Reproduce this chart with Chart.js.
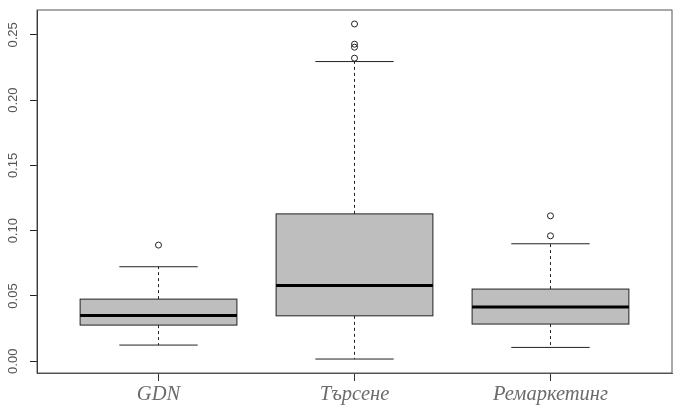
<!DOCTYPE html>
<html>
<head>
<meta charset="utf-8">
<script src="https://cdn.jsdelivr.net/npm/chart.js@4/dist/chart.umd.min.js"></script>
<style>
  html, body { margin: 0; padding: 0; background: #fff; }
  #wrap { width: 690px; height: 420px; }
</style>
</head>
<body>
<div id="wrap"><canvas id="box"></canvas></div>
<script>
const categories = ['GDN', 'Търсене', 'Ремаркетинг'];
const whiskerLow = [0.0124, 0.0017, 0.0106];
const q1 = [0.0277, 0.0348, 0.0285];
const median = [0.0351, 0.058, 0.0415];
const q3 = [0.0476, 0.1129, 0.0553];
const whiskerHigh = [0.0724, 0.2296, 0.090];
const outliers = [
  [0.089],
  [0.2322, 0.2406, 0.2429, 0.2584],
  [0.0961, 0.1114]
];
const yTicks = [0, 0.05, 0.10, 0.15, 0.20, 0.25];

// outlier points, x = category position 1..n
const outlierPoints = [];
outliers.forEach((list, i) => {
  list.forEach(v => outlierPoints.push({x: i + 1, y: v}));
});

// boxes, whiskers and medians drawn from the scales
const boxPlugin = {
  id: 'boxes',
  beforeDatasetsDraw(chart) {
    const ctx = chart.ctx;
    const xs = chart.scales.x;
    const ys = chart.scales.y;
    ctx.save();
    categories.forEach((c, i) => {
      const pos = i + 1;
      const xl = xs.getPixelForValue(pos - 0.4);
      const xr = xs.getPixelForValue(pos + 0.4);
      const cl = xs.getPixelForValue(pos - 0.2);
      const cr = xs.getPixelForValue(pos + 0.2);
      const xc = xs.getPixelForValue(pos);
      const yLo = ys.getPixelForValue(whiskerLow[i]);
      const yQ1 = ys.getPixelForValue(q1[i]);
      const yMed = ys.getPixelForValue(median[i]);
      const yQ3 = ys.getPixelForValue(q3[i]);
      const yHi = ys.getPixelForValue(whiskerHigh[i]);

      // whiskers
      ctx.strokeStyle = '#222';
      ctx.lineWidth = 1;
      ctx.setLineDash([3, 3]);
      ctx.beginPath();
      ctx.moveTo(xc, yQ3); ctx.lineTo(xc, yHi);
      ctx.moveTo(xc, yQ1); ctx.lineTo(xc, yLo);
      ctx.stroke();
      ctx.setLineDash([]);
      ctx.beginPath();
      ctx.moveTo(cl, yHi); ctx.lineTo(cr, yHi);
      ctx.moveTo(cl, yLo); ctx.lineTo(cr, yLo);
      ctx.stroke();

      // box
      ctx.fillStyle = '#bebebe';
      ctx.fillRect(xl, yQ3, xr - xl, yQ1 - yQ3);
      ctx.strokeStyle = '#222';
      ctx.strokeRect(xl, yQ3, xr - xl, yQ1 - yQ3);

      // median
      ctx.lineWidth = 3;
      ctx.strokeStyle = '#000';
      ctx.beginPath();
      ctx.moveTo(xl, yMed); ctx.lineTo(xr, yMed);
      ctx.stroke();
    });
    ctx.restore();
  },
  afterDraw(chart) {
    const a = chart.chartArea;
    const ctx = chart.ctx;
    const ys = chart.scales.y;
    ctx.save();
    ctx.strokeStyle = '#555';
    ctx.lineWidth = 1;
    ctx.strokeRect(a.left, a.top, a.right - a.left, a.bottom - a.top);

    // rotated y labels, centred on their ticks like R does
    ctx.fillStyle = '#555';
    ctx.font = '13px "Liberation Sans"';
    ctx.textAlign = 'center';
    ctx.textBaseline = 'middle';
    yTicks.forEach(v => {
      ctx.save();
      ctx.translate(13, ys.getPixelForValue(v));
      ctx.rotate(-Math.PI / 2);
      ctx.fillText(v.toFixed(2), 0, 0);
      ctx.restore();
    });
    ctx.restore();
  }
};

new Chart(document.getElementById('box'), {
  type: 'scatter',
  data: {
    datasets: [
      {
        label: 'outliers',
        data: outlierPoints,
        pointStyle: 'circle',
        radius: 3,
        borderWidth: 1,
        borderColor: '#222',
        backgroundColor: 'rgba(0,0,0,0)'
      }
    ]
  },
  options: {
    responsive: true,
    maintainAspectRatio: false,
    animation: false,
    layout: { padding: { top: 10, right: 18, left: 0, bottom: 0 } },
    plugins: {
      legend: { display: false },
      tooltip: { enabled: false }
    },
    scales: {
      x: {
        type: 'linear',
        min: 0.38,
        max: 3.62,
        afterBuildTicks: axis => { axis.ticks = categories.map((c, i) => ({value: i + 1})); },
        afterFit: axis => { axis.height = 47; },
        grid: { display: true, drawOnChartArea: false, drawTicks: true, tickLength: 8, color: '#333' },
        border: { display: true, color: '#555' },
        ticks: {
          padding: 1,
          color: '#6b6b6b',
          font: { family: 'Liberation Serif', style: 'italic', size: 20.5 },
          callback: v => categories[v - 1] || ''
        }
      },
      y: {
        min: -0.009,
        max: 0.2691,
        afterBuildTicks: axis => { axis.ticks = yTicks.map(v => ({value: v})); },
        afterFit: axis => { axis.width = 37; },
        grid: { display: true, drawOnChartArea: false, drawTicks: true, tickLength: 7, color: '#222' },
        border: { display: true, color: '#222' },
        ticks: { display: false }
      }
    }
  },
  plugins: [boxPlugin]
});
</script>
</body>
</html>
